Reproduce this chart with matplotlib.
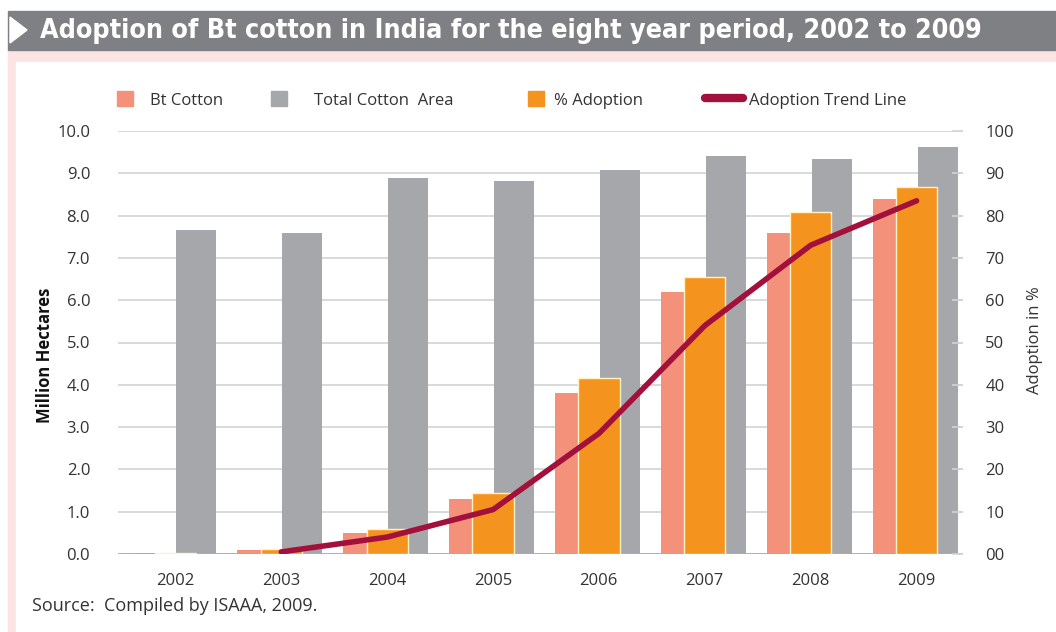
import matplotlib
matplotlib.use("Agg")
import matplotlib.pyplot as plt
import numpy as np
from matplotlib.patches import Rectangle, Polygon, Patch
from matplotlib.lines import Line2D

# --- data -------------------------------------------------------------------
years = ["2002", "2003", "2004", "2005", "2006", "2007", "2008", "2009"]
bt_cotton = [0.02, 0.1, 0.5, 1.3, 3.8, 6.2, 7.6, 8.4]          # million ha
total_area = [7.67, 7.6, 8.9, 8.82, 9.08, 9.4, 9.34, 9.62]      # million ha
pct_adoption = [0.3, 1.2, 5.8, 14.5, 41.6, 65.5, 80.9, 86.8]    # %
trend = [np.nan, 0.5, 4.0, 10.5, 28.5, 54.0, 73.0, 83.5]        # %

SALMON = "#f4917a"
GREY = "#a6a7aa"
ORANGE = "#f5931f"
CRIMSON = "#a3103c"
INK = "#333333"
GRID = "#d2d3d5"
BAND = "#7f8083"
PINK = "#fbe4e1"

plt.rcParams.update({
    "font.family": ["Open Sans", "DejaVu Sans"],
    "font.size": 12,
    "text.color": INK,
})

W, H = 1056, 632
fig = plt.figure(figsize=(W / 100, H / 100), dpi=100)


def px(x, y):
    return x / W, 1 - y / H


# background frame + title band
fig.patches.append(Rectangle(px(8, 632), (W - 8) / W, (632 - 50) / H,
                             transform=fig.transFigure, color=PINK, zorder=0))
fig.patches.append(Rectangle(px(16, 632), (W - 16) / W, (632 - 62) / H,
                             transform=fig.transFigure, color="white", zorder=0))
fig.patches.append(Rectangle(px(8, 50), (W - 8) / W, 39 / H,
                             transform=fig.transFigure, color=BAND, zorder=1))
fig.patches.append(Polygon([px(10, 17), px(27, 30), px(10, 43)], closed=True,
                           transform=fig.transFigure, color="white", zorder=2))
fig.text(*px(40, 31), "Adoption of Bt cotton in India for the eight year period, 2002 to 2009",
         ha="left", va="center", color="white", fontsize=19.3, fontweight="bold",
         family=["DejaVu Sans"], fontstretch="condensed", zorder=3)

ax = fig.add_axes([118 / W, 1 - 554 / H, (963 - 118) / W, (554 - 131) / H])
ax2 = ax.twinx()
ax.set_zorder(3)
ax2.set_zorder(4)
ax.patch.set_visible(False)
ax2.patch.set_visible(False)

x = np.arange(len(years))
w = 0.377
ax.bar(x, total_area, width=w, color=GREY, zorder=3)
ax.bar(x - 0.425, bt_cotton, width=w, color=SALMON, zorder=3)
ax2.bar(x - 0.198, pct_adoption, width=0.39, color=ORANGE,
        edgecolor="#fff2c4", linewidth=1.0, zorder=3)
ax2.plot(x - 0.198, trend, color=CRIMSON, lw=4, solid_capstyle="round",
         solid_joinstyle="round", zorder=4)

ax.set_xlim(-0.74, 7.24)
ax.set_ylim(0, 10)
ax2.set_ylim(0, 100)
ax.set_yticks(np.arange(0, 11, 1), [f"{v:.1f}" for v in range(11)])
ax2.set_yticks(np.arange(0, 101, 10), ["00"] + [str(v) for v in range(10, 101, 10)])
ax.set_xticks(x - 0.2, years)

ax.yaxis.grid(True, color=GRID, lw=1.2, zorder=0)
ax.set_axisbelow(True)
ax.axhline(0, color="#a9adb1", lw=2, zorder=5)
for a in (ax, ax2):
    for s in a.spines.values():
        s.set_visible(False)
ax.tick_params(axis="y", length=0, pad=20, labelsize=12, labelcolor=INK)
ax.tick_params(axis="x", length=0, pad=14, labelsize=12, labelcolor=INK)
ax2.tick_params(axis="y", length=8, width=1.2, color=GRID, pad=16,
                labelsize=12, labelcolor=INK, direction="in")

fig.text(*px(45, 355), "Million Hectares", rotation=90, ha="center", va="center",
         fontsize=12, fontweight="bold", color="#111111")
fig.text(*px(1035, 340), "Adoption in %", rotation=90, ha="center", va="center",
         fontsize=12, color=INK)

# legend: one entry each, placed where the reference puts them
entries = [
    (Patch(color=SALMON), "Bt Cotton", 110, 1.0, 1.0),
    (Patch(color=GREY), "Total Cotton  Area", 264, 1.0, 1.6),
    (Patch(color=ORANGE), "% Adoption", 521, 1.0, 0.6),
    (Line2D([0], [0], color=CRIMSON, lw=6, solid_capstyle="round"),
     "Adoption Trend Line", 698, 2.3, 0.35),
]
for h, lab, x0, hl, pad in entries:
    fig.legend(handles=[h], labels=[lab], loc="center left",
               bbox_to_anchor=px(x0, 100), frameon=False, fontsize=12,
               handlelength=hl, handleheight=1.0, handletextpad=pad,
               borderaxespad=0, borderpad=0.4)

fig.text(*px(32, 606), "Source:  Compiled by ISAAA, 2009.", ha="left", va="center",
         fontsize=13, color=INK)

fig.savefig("out.png", dpi=100)
